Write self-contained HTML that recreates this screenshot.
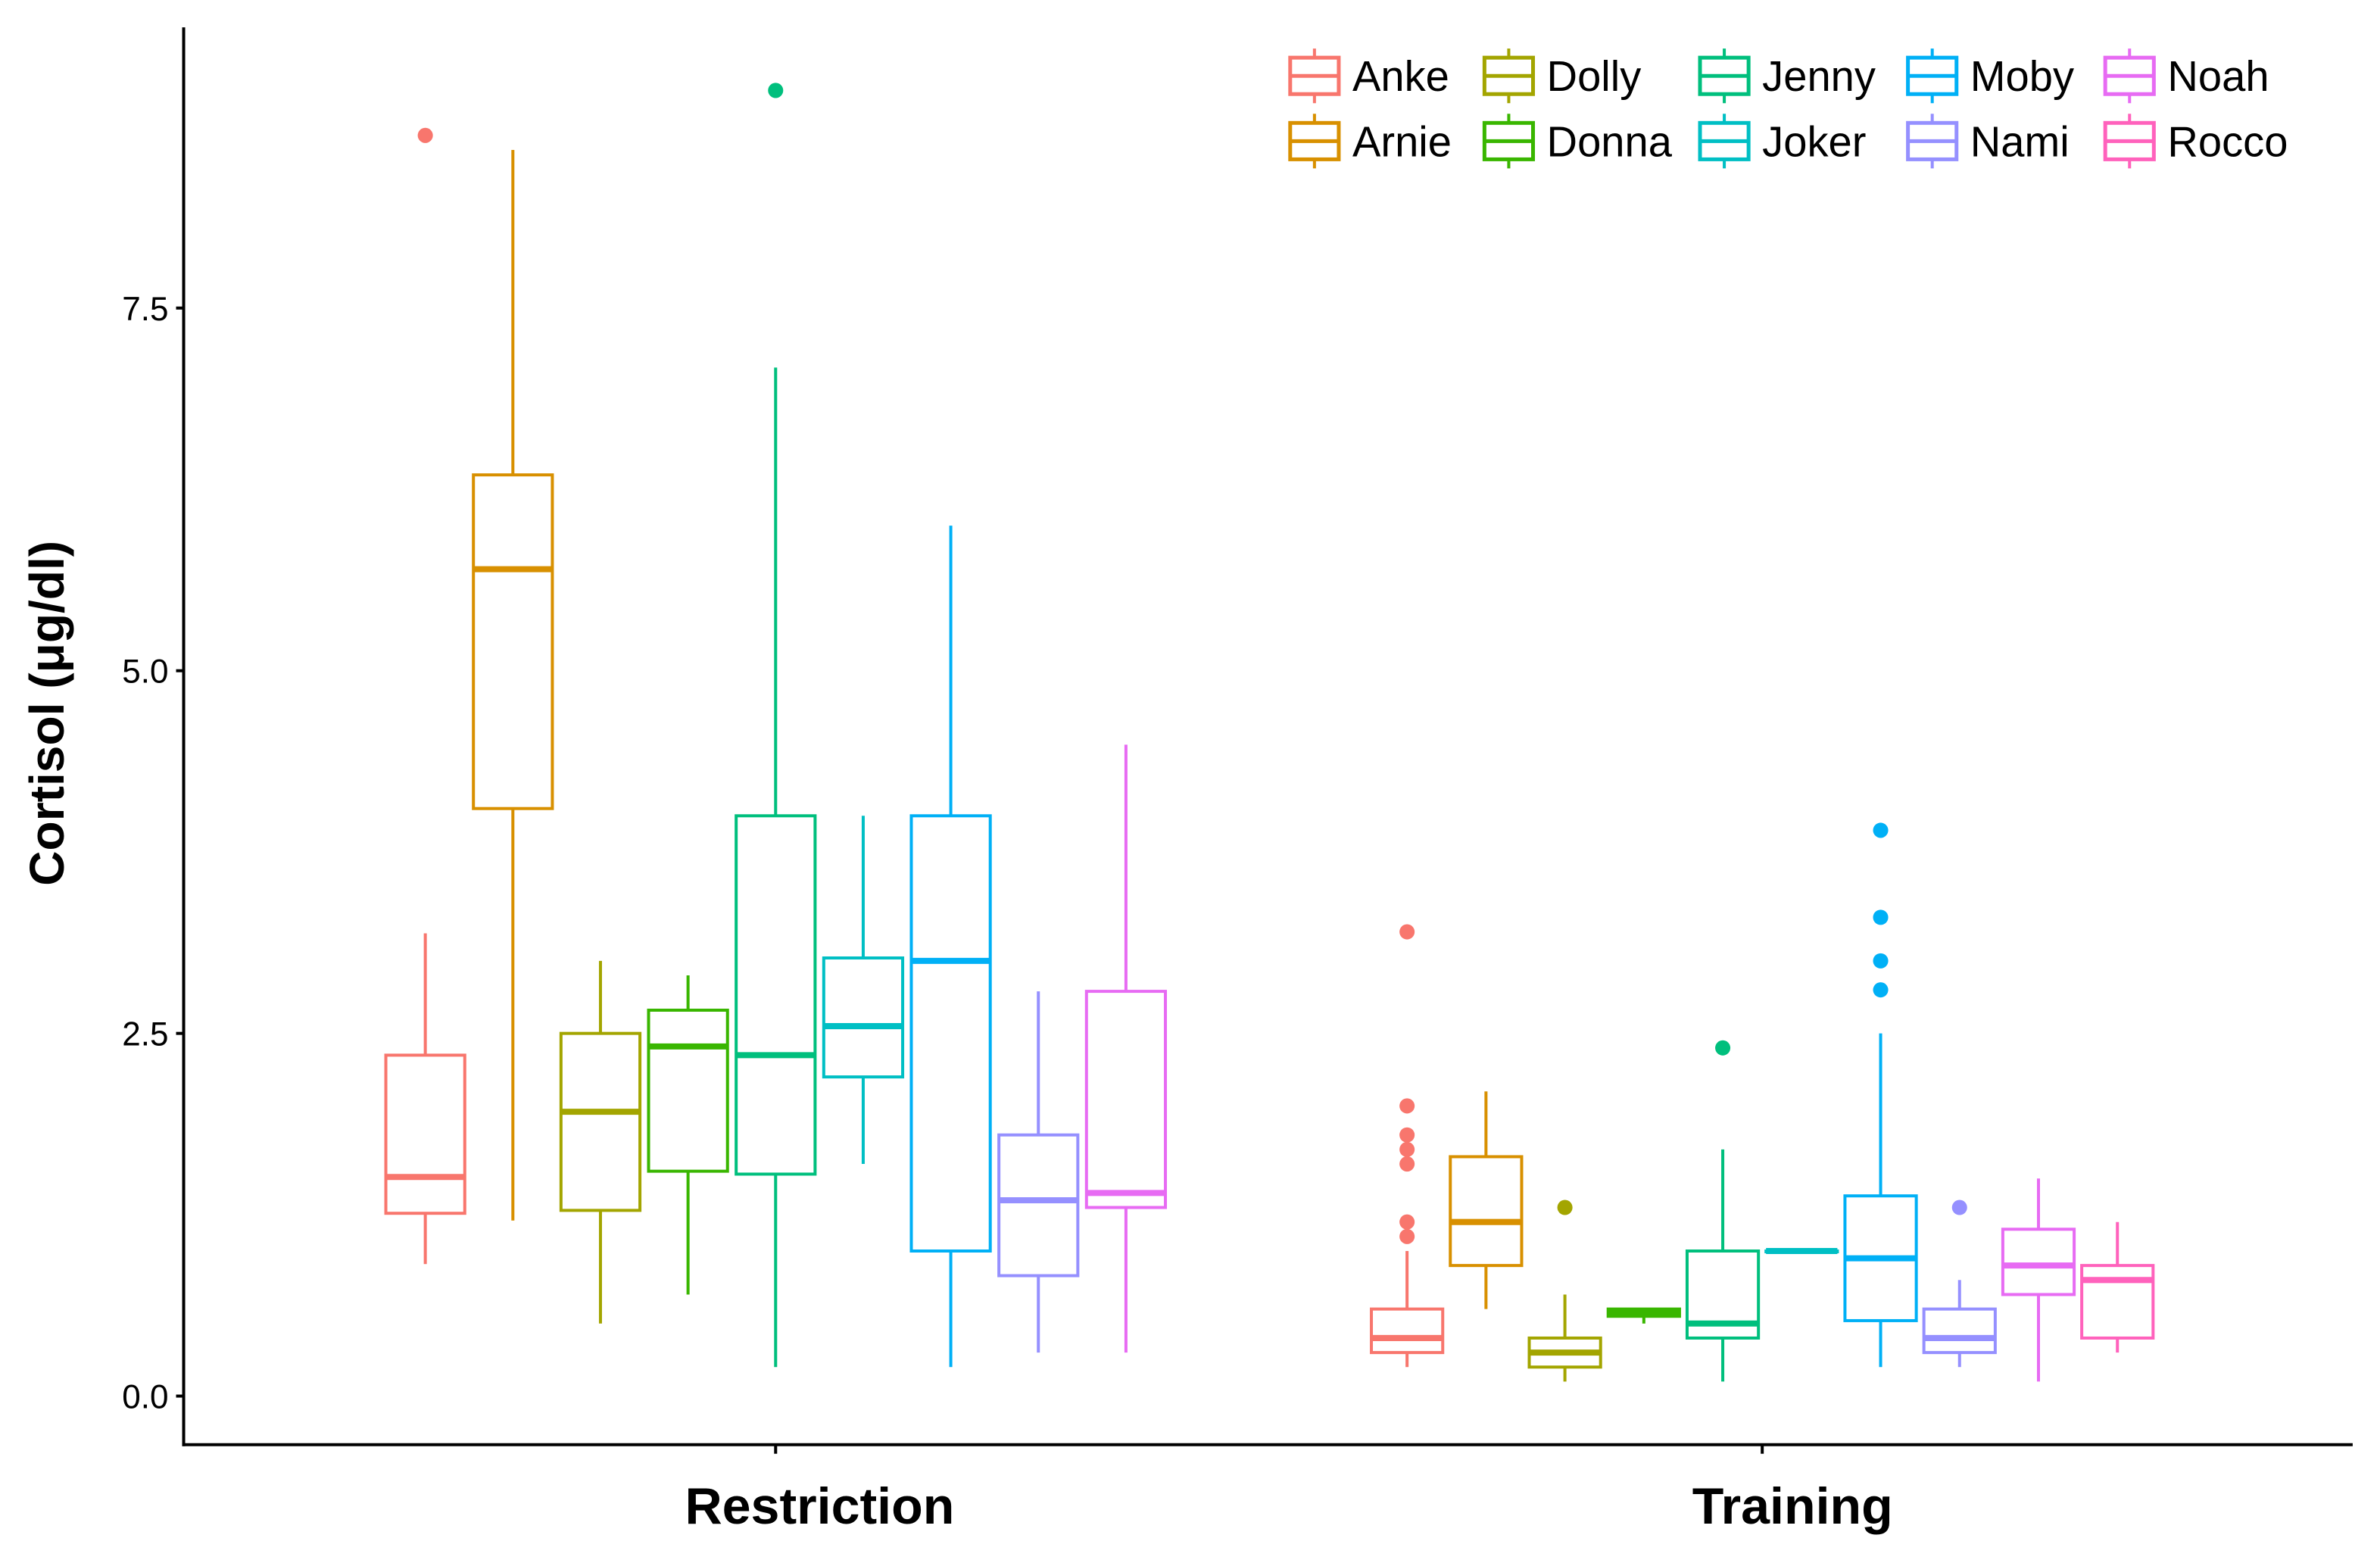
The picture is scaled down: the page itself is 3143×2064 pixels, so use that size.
<!DOCTYPE html>
<html><head><meta charset="utf-8"><style>
html,body{margin:0;padding:0;background:#fff;}
svg{display:block;}
</style></head><body>
<svg id="chart" width="3143" height="2064" viewBox="0 0 1568 1030" preserveAspectRatio="none" xmlns="http://www.w3.org/2000/svg" font-family="Liberation Sans, Arial, sans-serif">
</svg>
<script>
const animals = ["Anke","Arnie","Dolly","Donna","Jenny","Joker","Moby","Nami","Noah","Rocco"];
const colors = ["#F8766D","#D89000","#A3A500","#39B600","#00BF7D","#00BFC4","#00B0F6","#9590FF","#E76BF3","#FF62BC"];
const conditions = ["Restriction","Training"];
const yTicks = [0, 2.5, 5, 7.5];
const yTickLabels = ["0.0","2.5","5.0","7.5"];
// [low, q1, median, q3, high] per animal
const restrictionStats = [
  [0.91,1.26,1.51,2.35,3.19],
  [1.21,4.05,5.70,6.35,8.59],
  [0.5,1.28,1.96,2.5,3.0],
  [0.7,1.55,2.41,2.66,2.9],
  [0.2,1.53,2.35,4.0,7.09],
  [1.6,2.2,2.55,3.02,4.0],
  [0.2,1.0,3.0,4.0,6.0],
  [0.3,0.83,1.35,1.8,2.79],
  [0.3,1.3,1.4,2.79,4.49],
  null
];
const restrictionOutliers = [[8.69],[],[],[],[9.0],[],[],[],[],[]];
const trainingStats = [
  [0.2,0.3,0.4,0.6,1.0],
  [0.6,0.9,1.2,1.65,2.1],
  [0.1,0.2,0.3,0.4,0.7],
  [0.5,0.55,0.58,0.6,0.6],
  [0.1,0.4,0.5,1.0,1.7],
  [1.0,1.0,1.0,1.0,1.0],
  [0.2,0.52,0.95,1.38,2.5],
  [0.2,0.3,0.4,0.6,0.8],
  [0.1,0.7,0.9,1.15,1.5],
  [0.3,0.4,0.8,0.9,1.2]
];
const trainingOutliers = [[3.2,2.0,1.8,1.7,1.6,1.2,1.1],[],[1.3],[],[2.4],[],[3.9,3.3,3.0,2.8],[1.3],[],[]];

const NS="http://www.w3.org/2000/svg";
const svg=document.getElementById('chart');
function mk(tag,attrs,parent){const e=document.createElementNS(NS,tag);for(const k in attrs)e.setAttribute(k,attrs[k]);(parent||svg).appendChild(e);return e;}
const X0=121,X1=1550,YTOP=18,YBOT=952;
function yScale(v){return 920-95.6*v;}
const groupCenter=[511,1161];
const labelOffset=[29,20];
const groupSpacing=[57.7,52];
const boxW=[52,47];

const ax=mk('g',{});


const yl=mk('line',{x1:X0,y1:YTOP,x2:X0,y2:YBOT+1,stroke:'#000','stroke-width':2},ax);


const xl=mk('line',{x1:X0-1,y1:YBOT,x2:X1,y2:YBOT,stroke:'#000','stroke-width':2},ax);


yTicks.forEach((v,i)=>{
  const y=yScale(v);
  const t=mk('line',{x1:X0-5,y1:y,x2:X0,y2:y,stroke:'#000','stroke-width':2},ax);
  
  
  const tx=mk('text',{x:X0-10,y:y+8,'text-anchor':'end','font-size':22,fill:'#000'},ax);
  tx.textContent=yTickLabels[i];
  
  
});
conditions.forEach((c,i)=>{
  const x=groupCenter[i];
  const t=mk('line',{x1:x,y1:YBOT,x2:x,y2:YBOT+6,stroke:'#000','stroke-width':2},ax);
  
  
  const tx=mk('text',{x:x+labelOffset[i],y:1004,'text-anchor':'middle','font-size':34,'font-weight':'bold',fill:'#000'},ax);
  tx.textContent=c;
  
  
});
const yt=mk('text',{x:0,y:0,transform:'translate(42,470) rotate(-90)','text-anchor':'middle','font-size':32,'font-weight':'bold',fill:'#000'});
yt.textContent='Cortisol (μg/dl)';



function drawBox(stats,xc,w,col,g){
  const [lo,q1,md,q3,hi]=stats;
  mk('line',{x1:xc,y1:yScale(hi),x2:xc,y2:yScale(q3),stroke:col,'stroke-width':2},g);
  mk('line',{x1:xc,y1:yScale(q1),x2:xc,y2:yScale(lo),stroke:col,'stroke-width':2},g);
  mk('rect',{x:xc-w/2,y:yScale(q3),width:w,height:Math.max(yScale(q1)-yScale(q3),0.5),fill:'#fff',stroke:col,'stroke-width':2},g);
  mk('line',{x1:xc-w/2,y1:yScale(md),x2:xc+w/2,y2:yScale(md),stroke:col,'stroke-width':4},g);
}
[restrictionStats,trainingStats].forEach((set,gi)=>{
  const outs=gi===0?restrictionOutliers:trainingOutliers;
  const present=set.map((s,i)=>s?i:-1).filter(i=>i>=0);
  const n=present.length;
  present.forEach((ai,k)=>{
    const xc=groupCenter[gi]+(k-(n-1)/2)*groupSpacing[gi];
    const g=mk('g',{});
    
    
    drawBox(set[ai],xc,boxW[gi],colors[ai],g);
    outs[ai].forEach(v=>{
      const c=mk('circle',{cx:xc,cy:yScale(v),r:5,fill:colors[ai]},g);
      
      
    });
  });
});

const colX=[850,978,1120,1257,1387];
const rowY=[50,93];
const lg=mk('g',{});


animals.forEach((a,i)=>{
  const col=Math.floor(i/2),row=i%2;
  const x=colX[col],y=rowY[row],c=colors[i];
  const e=mk('g',{},lg);
  
  
  mk('line',{x1:x+16,y1:y-18,x2:x+16,y2:y+18,stroke:c,'stroke-width':2},e);
  mk('rect',{x:x,y:y-12,width:32,height:24,fill:'#fff',stroke:c,'stroke-width':2.5},e);
  mk('line',{x1:x,y1:y,x2:x+32,y2:y,stroke:c,'stroke-width':2.5},e);
  const t=mk('text',{x:x+41,y:y+10,'font-size':28,fill:'#000'},e);
  t.textContent=a;
});
</script>
</body></html>
